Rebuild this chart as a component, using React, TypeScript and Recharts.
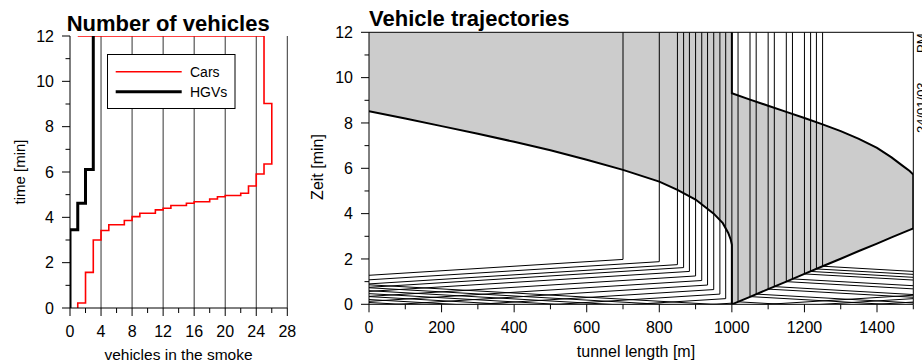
import { ComposedChart, Line, Area, XAxis, YAxis, ReferenceLine } from 'recharts';

const T_END = 12;
const TICK_SIZE = 8;
const TICK_MARGIN = 8;

// ---- left panel: vehicles in the smoke ----
const countTicks = [0, 2, 4, 6, 8, 10, 12, 14, 16, 18, 20, 22, 24, 26, 28];
const countGrid = [4, 8, 12, 16, 20, 24, 28];
const timeTicks = [0, 1, 2, 3, 4, 5, 6, 7, 8, 9, 10, 11, 12];

const carCounts = [1, 2, 3, 4, 5, 7, 8, 9, 11, 12, 13, 15, 16, 18, 19, 20, 22, 23, 24, 25, 26, 25];
const carTimes = [0, 0.22, 1.57, 3.0, 3.42, 3.67, 3.86, 4.03, 4.18, 4.33, 4.4, 4.52, 4.62, 4.69, 4.81, 4.91, 4.96, 5.06, 5.38, 5.91, 6.35, 9.02];
const hgvCounts = [0, 1, 2, 3];
const hgvTimes = [0, 3.45, 4.62, 6.11];

// ---- right panel: trajectories ----
const lengthTicks = [0, 100, 200, 300, 400, 500, 600, 700, 800, 900, 1000, 1100, 1200, 1300, 1400, 1500];

// smoke front upstream of the fire
const frontLX = [0, 100, 200, 300, 400, 500, 600, 700, 800, 850, 900, 950, 975, 990, 997, 1000];
const frontLT = [8.52, 8.2, 7.86, 7.52, 7.17, 6.8, 6.38, 5.93, 5.41, 5.05, 4.62, 4.0, 3.58, 3.15, 2.85, 2.62];
// smoke front downstream of the fire
const frontRX = [1000, 1050, 1100, 1150, 1200, 1250, 1300, 1350, 1400, 1440, 1470, 1490, 1500];
const frontRUpper = [9.31, 9.03, 8.76, 8.49, 8.22, 7.94, 7.64, 7.3, 6.9, 6.48, 6.12, 5.88, 5.72];
const frontRLower = [0, 0.33, 0.67, 1.0, 1.34, 1.68, 2.01, 2.35, 2.68, 2.95, 3.15, 3.28, 3.35];

// vehicles entering at 0 m, stopped in the queue
const eastStopX = [700, 800, 850, 867, 883, 900, 917, 933, 950, 967, 983, 1000];
const eastEntryT = [1.28, 1.08, 0.9, 0.75, 0.57, 0.35, 0.13, -0.08, -0.3, -0.52, -0.73, -0.95];
const eastStopT = [1.98, 1.88, 1.75, 1.62, 1.45, 1.25, 1.05, 0.85, 0.65, 0.45, 0.25, 0.05];
// vehicles entering at 0 m that left the tunnel
const eastPassEntryT = [-1.1, -1.25, -1.4];
const eastPassExitT = [0.4, 0.25, 0.1];

// vehicles entering at 1500 m, stopped by the smoke
const westStopX = [1017, 1050, 1067, 1100, 1117, 1150, 1167, 1200, 1217, 1233, 1250];
const westEntryT = [-0.33, -0.07, 0.06, 0.31, 0.43, 0.68, 0.82, 1.07, 1.19, 1.32, 1.45];
const westStopT = [0.11, 0.34, 0.45, 0.67, 0.78, 1.0, 1.12, 1.34, 1.45, 1.56, 1.68];
// vehicles entering at 1500 m that left the tunnel
const westPassEntryT = [-0.5, -0.63, -0.76, -0.89, -1.02, -1.15, -1.28];
const westPassExitT = [0.86, 0.73, 0.6, 0.47, 0.34, 0.21, 0.08];

function stepPath(counts: number[], times: number[], close: boolean) {
  const pts = [{ n: counts[0], t: times[0] }];
  for (let i = 1; i < counts.length; i++) {
    pts.push({ n: counts[i - 1], t: times[i] });
    pts.push({ n: counts[i], t: times[i] });
  }
  pts.push({ n: counts[counts.length - 1], t: T_END });
  if (close) pts.push({ n: counts[0], t: T_END });
  return pts;
}

const carPath = stepPath(carCounts, carTimes, true);
const hgvPath = stepPath(hgvCounts, hgvTimes, false);

const smokeData = [
  ...frontLX.map((x, i) => ({ x, leftSmoke: [frontLT[i], T_END] })),
  ...frontRX.map((x, i) => ({ x, rightSmoke: [frontRLower[i], frontRUpper[i]] })),
];

const leftFrontPath = [...frontLX.map((x, i) => ({ x, t: frontLT[i] })), { x: 1000, t: 0 }];
const rightFrontPath = [
  { x: frontRX[0], t: T_END },
  ...frontRX.map((x, i) => ({ x, t: frontRUpper[i] })),
  ...frontRX.map((x, i) => ({ x, t: frontRLower[i] })).reverse(),
];

const trajectories = [
  ...eastStopX.map((x, i) => [{ x: 0, t: eastEntryT[i] }, { x, t: eastStopT[i] }, { x, t: T_END }]),
  ...eastPassEntryT.map((t, i) => [{ x: 0, t }, { x: 1500, t: eastPassExitT[i] }]),
  ...westStopX.map((x, i) => [{ x: 1500, t: westEntryT[i] }, { x, t: westStopT[i] }, { x, t: T_END }]),
  ...westPassEntryT.map((t, i) => [{ x: 1500, t }, { x: 0, t: westPassExitT[i] }]),
];

const makeYTick = (every: number) => (props: any) => {
  const { x, y, payload } = props;
  const axisX = x + TICK_SIZE + TICK_MARGIN;
  const major = payload.value % every === 0;
  return (
    <g>
      <line x1={axisX - (major ? 8 : 4.5)} x2={axisX} y1={y} y2={y} stroke="#000" />
      {major && (
        <text x={axisX - 16} y={y} dy={5.8} textAnchor="end" fontSize={16} fill="#000">
          {payload.value}
        </text>
      )}
    </g>
  );
};

const makeXTick = (every: number) => (props: any) => {
  const { x, y, payload } = props;
  const axisY = y - TICK_SIZE - TICK_MARGIN;
  const major = payload.value % every === 0;
  return (
    <g>
      <line x1={x} x2={x} y1={axisY} y2={axisY + (major ? 8 : 5)} stroke="#000" />
      {major && (
        <text x={x} y={axisY + 28.5} textAnchor="middle" fontSize={16} fill="#000">
          {payload.value}
        </text>
      )}
    </g>
  );
};

export default function App() {
  return (
    <div
      style={{
        position: 'absolute',
        left: 0,
        top: 0,
        width: 922,
        height: 364,
        background: '#fff',
        fontFamily: '"Liberation Sans", Arial, sans-serif',
      }}
    >
      <div style={{ position: 'absolute', left: 0, top: 0 }}>
        <ComposedChart width={300} height={364} margin={{ top: 36, right: 12.7, bottom: 0, left: 0 }}>
          <XAxis
            type="number"
            dataKey="n"
            domain={[0, 28]}
            ticks={countTicks}
            interval={0}
            allowDataOverflow
            height={56}
            stroke="#000"
            tickSize={TICK_SIZE}
            tickMargin={TICK_MARGIN}
            tickLine={false}
            tick={makeXTick(4)}
          />
          <YAxis
            type="number"
            domain={[0, 12]}
            ticks={timeTicks}
            interval={0}
            allowDataOverflow
            width={70}
            stroke="#000"
            tickSize={TICK_SIZE}
            tickMargin={TICK_MARGIN}
            tickLine={false}
            tick={makeYTick(2)}
          />
          {countGrid.map((n) => (
            <ReferenceLine key={`g${n}`} x={n} stroke="#333" strokeWidth={1} />
          ))}
          <Line
            data={carPath}
            dataKey="t"
            type="linear"
            stroke="#ff0000"
            strokeWidth={1.6}
            dot={false}
            activeDot={false}
            isAnimationActive={false}
          />
          <Line
            data={hgvPath}
            dataKey="t"
            type="linear"
            stroke="#000"
            strokeWidth={3}
            dot={false}
            activeDot={false}
            isAnimationActive={false}
          />
        </ComposedChart>
      </div>

      <div style={{ position: 'absolute', left: 300, top: 0 }}>
        <ComposedChart width={622} height={364} data={smokeData} margin={{ top: 32.3, right: 8.7, bottom: 0, left: 0 }}>
          <XAxis
            type="number"
            dataKey="x"
            domain={[0, 1500]}
            ticks={lengthTicks}
            interval={0}
            allowDataOverflow
            height={59.7}
            stroke="#000"
            tickSize={TICK_SIZE}
            tickMargin={TICK_MARGIN}
            tickLine={false}
            tick={makeXTick(200)}
          />
          <YAxis
            type="number"
            domain={[0, 12]}
            ticks={timeTicks}
            interval={0}
            allowDataOverflow
            width={69}
            stroke="#000"
            tickSize={TICK_SIZE}
            tickMargin={TICK_MARGIN}
            tickLine={false}
            tick={makeYTick(2)}
          />
          <Area
            dataKey="leftSmoke"
            type="linear"
            stroke="none"
            fill="#cccccc"
            fillOpacity={1}
            dot={false}
            activeDot={false}
            isAnimationActive={false}
          />
          <Area
            dataKey="rightSmoke"
            type="linear"
            stroke="none"
            fill="#cccccc"
            fillOpacity={1}
            dot={false}
            activeDot={false}
            isAnimationActive={false}
          />
          <ReferenceLine y={12} stroke="#000" />
          <ReferenceLine x={1500} stroke="#000" />
          {trajectories.map((pts, i) => (
            <Line
              key={`v${i}`}
              data={pts}
              dataKey="t"
              type="linear"
              stroke="#000"
              strokeWidth={1}
              dot={false}
              activeDot={false}
              isAnimationActive={false}
            />
          ))}
          <Line
            data={leftFrontPath}
            dataKey="t"
            type="linear"
            stroke="#000"
            strokeWidth={2}
            dot={false}
            activeDot={false}
            isAnimationActive={false}
          />
          <Line
            data={rightFrontPath}
            dataKey="t"
            type="linear"
            stroke="#000"
            strokeWidth={2}
            dot={false}
            activeDot={false}
            isAnimationActive={false}
          />
        </ComposedChart>
      </div>

      <svg
        width={922}
        height={364}
        style={{ position: 'absolute', left: 0, top: 0, pointerEvents: 'none' }}
      >
        <text x={66.7} y={30.7} fontSize={22} fontWeight="bold" fill="#000">
          Number of vehicles
        </text>
        <text x={369} y={25.7} fontSize={22} fontWeight="bold" fill="#000">
          Vehicle trajectories
        </text>
        <text transform="translate(24.5,172) rotate(-90)" textAnchor="middle" fontSize={15} fill="#000">
          time [min]
        </text>
        <text transform="translate(323,167) rotate(-90)" textAnchor="middle" fontSize={16} fill="#000">
          Zeit [min]
        </text>
        <text x={178.5} y={360} textAnchor="middle" fontSize={15.5} fill="#000">
          vehicles in the smoke
        </text>
        <text x={636} y={357} textAnchor="middle" fontSize={16} fill="#000">
          tunnel length [m]
        </text>

        <rect x={107.5} y={54.5} width={127.5} height={54} fill="#fff" stroke="#000" />
        <line x1={115.7} x2={181.7} y1={71.7} y2={71.7} stroke="#ff0000" strokeWidth={1.6} />
        <text x={190} y={77} fontSize={14} fill="#000">
          Cars
        </text>
        <line x1={115.7} x2={181.7} y1={91.7} y2={91.7} stroke="#000" strokeWidth={3} />
        <text x={190} y={97} fontSize={14} fill="#000">
          HGVs
        </text>

        <text transform="translate(926,133) rotate(-90)" fontSize={13} fill="#000">
          24/01/03
        </text>
        <text transform="translate(926,53) rotate(-90)" fontSize={13} fill="#000">
          PM
        </text>
      </svg>
    </div>
  );
}
